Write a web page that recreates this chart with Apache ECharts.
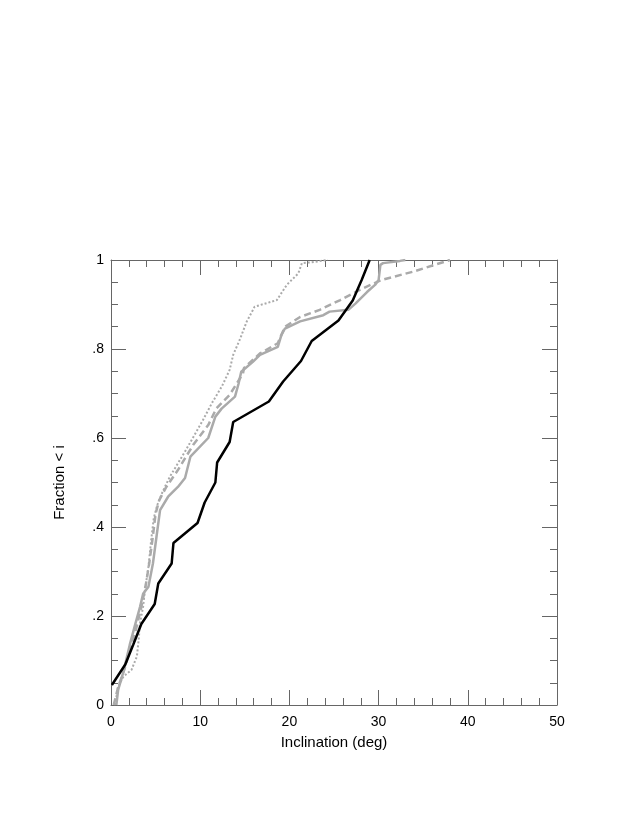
<!DOCTYPE html>
<html>
<head>
<meta charset="utf-8">
<script src="https://cdn.jsdelivr.net/npm/echarts@6/dist/echarts.min.js"></script>
<style>html,body{margin:0;padding:0;background:#fff;}#c{width:632px;height:817px;}</style>
</head>
<body>
<div id="c"></div>
<script>
var xTicks = [0, 10, 20, 30, 40, 50];
var yTickLabels = {0: '0', 0.2: '.2', 0.4: '.4', 0.6: '.6', 0.8: '.8', 1: '1'};

var blackX = [0.1, 1.6, 2.5, 3.4, 4.9, 5.3, 6.8, 7.0, 9.7, 10.5, 11.7, 11.9, 13.3, 13.7, 17.7, 19.3, 21.3, 22.5, 25.5, 27.1, 28.1, 29.0];
var blackY = [0.045, 0.091, 0.136, 0.182, 0.227, 0.273, 0.318, 0.364, 0.409, 0.455, 0.5, 0.545, 0.591, 0.636, 0.682, 0.727, 0.773, 0.818, 0.864, 0.909, 0.955, 1.0];

var solidX = [0.6, 0.8, 1.4, 2.1, 2.7, 3.25, 3.6, 4.2, 4.7, 5.1, 5.5, 6.4, 7.5, 8.3, 8.9, 10.9, 11.7, 12.4, 13.9, 14.3, 14.6, 15.9, 16.7, 18.7, 19.1, 19.5, 21.2, 23.8, 24.5, 26.6, 27.4, 28.7, 29.6, 30.0, 30.2, 30.5, 32.4, 33.0];
var solidY = [0, 0.034, 0.075, 0.135, 0.18, 0.22, 0.25, 0.266, 0.318, 0.378, 0.438, 0.468, 0.49, 0.51, 0.558, 0.6, 0.648, 0.666, 0.693, 0.722, 0.749, 0.771, 0.787, 0.805, 0.831, 0.846, 0.862, 0.876, 0.884, 0.888, 0.902, 0.928, 0.944, 0.955, 0.989, 0.993, 0.998, 1.0];

var dashX = [0.3, 0.8, 1.5, 2.2, 2.8, 3.4, 3.9, 4.3, 4.7, 5.0, 5.4, 6.2, 7.5, 9.2, 10.9, 11.8, 13.3, 14.8, 14.9, 16.7, 18.7, 19.5, 21.2, 22.3, 23.4, 25.7, 27.9, 30.3, 33.9, 38.0];
var dashY = [0, 0.04, 0.08, 0.13, 0.17, 0.22, 0.27, 0.32, 0.38, 0.43, 0.46, 0.49, 0.528, 0.584, 0.629, 0.666, 0.697, 0.745, 0.757, 0.79, 0.813, 0.85, 0.872, 0.88, 0.888, 0.91, 0.933, 0.955, 0.974, 1.0];

var dotX = [0.45, 0.8, 1.4, 2.3, 2.9, 3.1, 3.25, 3.6, 3.8, 4.2, 4.5, 4.8, 5.2, 5.8, 6.6, 8.4, 10.3, 11.3, 12.4, 12.6, 13.3, 13.7, 14.5, 15.2, 16.1, 18.6, 19.7, 21.0, 21.4, 22.5, 24.3];
var dotY = [0, 0.041, 0.064, 0.079, 0.109, 0.146, 0.184, 0.221, 0.258, 0.31, 0.37, 0.42, 0.45, 0.48, 0.513, 0.573, 0.64, 0.678, 0.715, 0.723, 0.753, 0.787, 0.824, 0.861, 0.895, 0.91, 0.944, 0.97, 0.993, 0.995, 1.0];

function pairs(xs, ys) { return xs.map(function (x, i) { return [x, ys[i]]; }); }

var FONT = 'Liberation Sans';
var axisGrey = '#666';
var lineGrey = '#aaaaaa';

function xAx(pos, showLabels) {
  return {
    type: 'value', position: pos, min: 0, max: 50, interval: 10,
    name: showLabels ? 'Inclination (deg)' : '', nameLocation: 'middle', nameGap: 30,
    nameTextStyle: {fontFamily: FONT, fontSize: 15, color: '#000'},
    axisLine: {show: true, onZero: false, lineStyle: {color: axisGrey, width: 1}},
    axisTick: {show: true, inside: true, length: 15, lineStyle: {color: axisGrey}},
    minorTick: {show: true, splitNumber: 5, length: 7, lineStyle: {color: axisGrey}},
    axisLabel: {show: showLabels, fontFamily: FONT, fontSize: 14, color: '#000', margin: 10},
    splitLine: {show: false}, minorSplitLine: {show: false}
  };
}
function yAx(pos, showLabels) {
  return {
    type: 'value', position: pos, min: 0, max: 1, interval: 0.2,
    name: showLabels ? 'Fraction < i' : '', nameLocation: 'middle', nameGap: 44, nameRotate: 90,
    nameTextStyle: {fontFamily: FONT, fontSize: 15, color: '#000'},
    axisLine: {show: true, onZero: false, lineStyle: {color: axisGrey, width: 1}},
    axisTick: {show: true, inside: true, length: 15, lineStyle: {color: axisGrey}},
    minorTick: {show: true, splitNumber: 4, length: 7, lineStyle: {color: axisGrey}},
    axisLabel: {show: showLabels, fontFamily: FONT, fontSize: 14, color: '#000', margin: 7,
      formatter: function (v) { var k = Math.round(v * 10) / 10; return yTickLabels[k] !== undefined ? yTickLabels[k] : ''; }},
    splitLine: {show: false}, minorSplitLine: {show: false}
  };
}

var chart = echarts.init(document.getElementById('c'), null, {renderer: 'canvas'});
chart.setOption({
  animation: false,
  backgroundColor: '#fff',
  grid: {left: 111, right: 75, top: 260, bottom: 112, containLabel: false},
  xAxis: [xAx('bottom', true), xAx('top', false)],
  yAxis: [yAx('left', true), yAx('right', false)],
  series: [
    {type: 'line', xAxisIndex: 0, yAxisIndex: 0, data: pairs(dotX, dotY), showSymbol: false, lineStyle: {color: lineGrey, width: 2, type: [2, 2]}},
    {type: 'line', xAxisIndex: 0, yAxisIndex: 0, data: pairs(dashX, dashY), showSymbol: false, lineStyle: {color: lineGrey, width: 2.5, type: [7, 4]}},
    {type: 'line', xAxisIndex: 0, yAxisIndex: 0, data: pairs(solidX, solidY), showSymbol: false, lineStyle: {color: lineGrey, width: 2.5}},
    {type: 'line', xAxisIndex: 0, yAxisIndex: 0, data: pairs(blackX, blackY), showSymbol: false, lineStyle: {color: '#000', width: 2.5}}
  ]
});
</script>
</body>
</html>
